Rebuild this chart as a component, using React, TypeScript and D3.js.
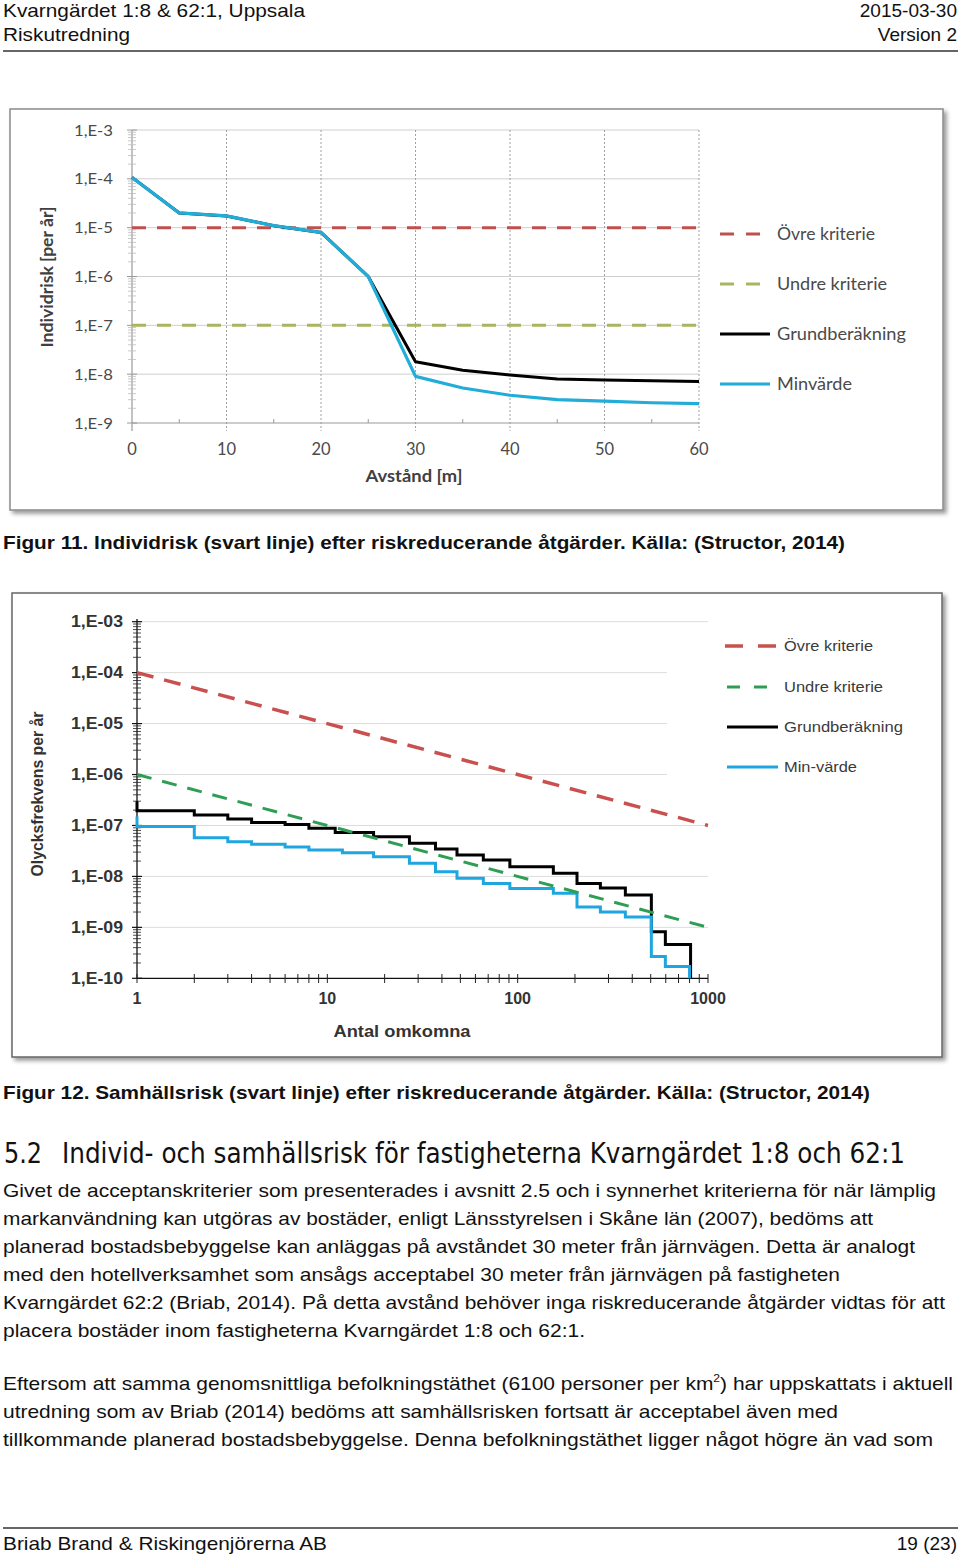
import React from 'react';
import * as d3 from 'd3';

// ---------- Page text ----------
const headerLeft = ['Kvarngärdet 1:8 & 62:1, Uppsala', 'Riskutredning'];
const headerRight = ['2015-03-30', 'Version 2'];
const caption11 = 'Figur 11. Individrisk (svart linje) efter riskreducerande åtgärder. Källa: (Structor, 2014)';
const caption12 = 'Figur 12. Samhällsrisk (svart linje) efter riskreducerande åtgärder. Källa: (Structor, 2014)';
const headingNum = '5.2';
const headingText = 'Individ- och samhällsrisk för fastigheterna Kvarngärdet 1:8 och 62:1';
const para1 = [
  'Givet de acceptanskriterier som presenterades i avsnitt 2.5 och i synnerhet kriterierna för när lämplig',
  'markanvändning kan utgöras av bostäder, enligt Länsstyrelsen i Skåne län (2007), bedöms att',
  'planerad bostadsbebyggelse kan anläggas på avståndet 30 meter från järnvägen. Detta är analogt',
  'med den hotellverksamhet som ansågs acceptabel 30 meter från järnvägen på fastigheten',
  'Kvarngärdet 62:2 (Briab, 2014). På detta avstånd behöver inga riskreducerande åtgärder vidtas för att',
  'placera bostäder inom fastigheterna Kvarngärdet 1:8 och 62:1.',
];
const para1Widths = [933, 870, 912, 837, 942, 582];
const para2a = 'Eftersom att samma genomsnittliga befolkningstäthet (6100 personer per km';
const para2b = ') har uppskattats i aktuell';
const para2 = [
  'utredning som av Briab (2014) bedöms att samhällsrisken fortsatt är acceptabel även med',
  'tillkommande planerad bostadsbebyggelse. Denna befolkningstäthet ligger något högre än vad som',
];
const para2Widths = [835, 930];
const footerLeft = 'Briab Brand & Riskingenjörerna AB';
const footerRight = '19 (23)';

// ---------- Figure 11: Individrisk ----------
const distances = [0, 5, 10, 15, 20, 25, 30, 35, 40, 45, 50, 55, 60];
const grundIndivid = [1.07e-4, 2e-5, 1.74e-5, 1.1e-5, 8e-6, 1e-6, 1.8e-8, 1.2e-8, 9.6e-9, 8e-9, 7.6e-9, 7.3e-9, 7.1e-9];
const minIndivid = [1.07e-4, 2e-5, 1.74e-5, 1.1e-5, 8e-6, 1e-6, 9e-9, 5.2e-9, 3.7e-9, 3e-9, 2.8e-9, 2.6e-9, 2.5e-9];
const ovreIndivid = 1e-5;
const undreIndivid = 1e-7;
const indYTicks = [1e-3, 1e-4, 1e-5, 1e-6, 1e-7, 1e-8, 1e-9];
const indYLabels = ['1,E-3', '1,E-4', '1,E-5', '1,E-6', '1,E-7', '1,E-8', '1,E-9'];
const indXTicks = [0, 10, 20, 30, 40, 50, 60];
const indXMinor = [5, 15, 25, 35, 45, 55];
const legend11 = ['Övre kriterie', 'Undre kriterie', 'Grundberäkning', 'Minvärde'];
const legend11Widths = [98, 110, 129, 75];

// ---------- Figure 12: Samhällsrisk (F/N) ----------
const grundN = [1, 1, 2, 3, 4, 6, 8, 11, 17.5, 27, 37, 48, 66, 91, 154, 205, 272, 368, 504, 597, 810];
const grundF = [3e-7, 1.95e-7, 1.6e-7, 1.34e-7, 1.15e-7, 1.05e-7, 8.8e-8, 7.3e-8, 6.0e-8, 4.47e-8, 3.45e-8, 2.63e-8, 2.1e-8, 1.55e-8, 1.15e-8, 7.3e-9, 5.9e-9, 4.3e-9, 8.2e-10, 4.6e-10, 1e-10];
const minN = [1, 1, 2, 3, 4, 6, 8, 12, 17.5, 27, 37, 48, 66, 91, 154, 205, 272, 368, 504, 597, 800];
const minF = [1.5e-7, 9.6e-8, 5.75e-8, 4.8e-8, 4.3e-8, 3.8e-8, 3.3e-8, 2.9e-8, 2.44e-8, 1.81e-8, 1.24e-8, 9.2e-9, 7.3e-9, 5.8e-9, 4.66e-9, 2.5e-9, 2.0e-9, 1.6e-9, 2.67e-10, 1.7e-10, 1e-10];
const ovreN = [1, 1000];
const ovreF = [1e-4, 1e-7];
const undreN = [1, 1000];
const undreF = [1e-6, 1e-9];
const samYTicks = [1e-3, 1e-4, 1e-5, 1e-6, 1e-7, 1e-8, 1e-9, 1e-10];
const samYLabels = ['1,E-03', '1,E-04', '1,E-05', '1,E-06', '1,E-07', '1,E-08', '1,E-09', '1,E-10'];
const samXTicks = [1, 10, 100, 1000];
const samXLabels = ['1', '10', '100', '1000'];
const legend12 = ['Övre kriterie', 'Undre kriterie', 'Grundberäkning', 'Min-värde'];
const legend12Widths = [89, 99, 119, 73];

const RED1 = '#c0504d';
const OLIVE1 = '#aab462';
const CYAN1 = '#22acd8';
const RED2 = '#c9504f';
const GREEN2 = '#2e9e55';
const CYAN2 = '#1ea6e0';

const sans = '"Liberation Sans", Arial, Helvetica, sans-serif';
const cal = 'Lato, "Open Sans", sans-serif';

function minorTicksLog(lo: number, hi: number): number[] {
  const out: number[] = [];
  for (let e = lo; e < hi; e++) {
    for (let m = 2; m <= 9; m++) out.push(m * Math.pow(10, e));
  }
  return out;
}

function Figure11() {
  const x = d3.scaleLinear().domain([0, 60]).range([132, 699]);
  const y = d3.scaleLog().domain([1e-9, 1e-3]).range([423, 130]);
  const line = d3
    .line<[number, number]>()
    .x((d) => x(d[0]))
    .y((d) => y(d[1]));
  const grundPts = distances.map((d, i) => [d, grundIndivid[i]] as [number, number]);
  const minPts = distances.map((d, i) => [d, minIndivid[i]] as [number, number]);
  const minors = minorTicksLog(-9, -3);
  const legY = [234, 284, 334, 384];
  return (
    <g>
      <rect x={10} y={109} width={933} height={401} fill="#fff" stroke="#8a8a8a" strokeWidth={1.5} filter="url(#shadow)" />
      {indYTicks.slice(0, 6).map((t) => (
        <line key={'hg' + t} x1={132} x2={699} y1={y(t)} y2={y(t)} stroke="#cfcfcf" strokeWidth={1} />
      ))}
      {indXTicks.slice(1).map((t) => (
        <line key={'vg' + t} x1={x(t)} x2={x(t)} y1={130} y2={431} stroke="#a0a0a0" strokeWidth={1} strokeDasharray="2 2" />
      ))}
      <line x1={132} x2={699} y1={423} y2={423} stroke="#9a9a9a" strokeWidth={1.2} />
      <line x1={132} x2={132} y1={130} y2={431} stroke="#9a9a9a" strokeWidth={1.2} />
      {indXMinor.map((t) => (
        <line key={'xm' + t} x1={x(t)} x2={x(t)} y1={419} y2={423} stroke="#9a9a9a" />
      ))}
      {minors.map((t, i) => (
        <line key={'ym' + i} x1={128} x2={136} y1={y(t)} y2={y(t)} stroke="#bcbcbc" strokeWidth={0.8} />
      ))}
      {indYTicks.map((t) => (
        <line key={'yM' + t} x1={127} x2={137} y1={y(t)} y2={y(t)} stroke="#9a9a9a" strokeWidth={1} />
      ))}
      {indYTicks.map((t, i) => (
        <text key={'yl' + t} x={113} y={y(t) + 5.5} textAnchor="end" fontFamily={cal} fontSize={16} fill="#4a4a4a" textLength={39} lengthAdjust="spacingAndGlyphs">
          {indYLabels[i]}
        </text>
      ))}
      {indXTicks.map((t) => (
        <text key={'xl' + t} x={x(t)} y={454.5} textAnchor="middle" fontFamily={cal} fontSize={16.5} fill="#4a4a4a">
          {t}
        </text>
      ))}
      <text x={414} y={482} textAnchor="middle" fontFamily={cal} fontSize={17} fontWeight="bold" fill="#404040" textLength={97} lengthAdjust="spacingAndGlyphs">
        Avstånd [m]
      </text>
      <text transform="translate(53,277) rotate(-90)" textAnchor="middle" fontFamily={cal} fontSize={17} fontWeight="bold" fill="#404040" textLength={141} lengthAdjust="spacingAndGlyphs">
        Individrisk [per år]
      </text>
      <line x1={132} x2={699} y1={y(ovreIndivid)} y2={y(ovreIndivid)} stroke={RED1} strokeWidth={3} strokeDasharray="14 11" />
      <line x1={132} x2={699} y1={y(undreIndivid)} y2={y(undreIndivid)} stroke={OLIVE1} strokeWidth={3} strokeDasharray="14 11" />
      <path d={line(grundPts) || ''} fill="none" stroke="#000" strokeWidth={3} strokeLinejoin="round" />
      <path d={line(minPts) || ''} fill="none" stroke={CYAN1} strokeWidth={3.2} strokeLinejoin="round" />
      {/* legend */}
      <line x1={720} x2={761} y1={legY[0]} y2={legY[0]} stroke={RED1} strokeWidth={3} strokeDasharray="14 12" />
      <line x1={720} x2={761} y1={legY[1]} y2={legY[1]} stroke={OLIVE1} strokeWidth={3} strokeDasharray="14 12" />
      <line x1={720} x2={770} y1={legY[2]} y2={legY[2]} stroke="#000" strokeWidth={3} />
      <line x1={720} x2={770} y1={legY[3]} y2={legY[3]} stroke={CYAN1} strokeWidth={3} />
      {legend11.map((s, i) => (
        <text key={s} x={777} y={legY[i] + 5.5} fontFamily={cal} fontSize={17} fill="#4a4a4a" textLength={legend11Widths[i]} lengthAdjust="spacingAndGlyphs">
          {s}
        </text>
      ))}
    </g>
  );
}

function Figure12() {
  const x = d3.scaleLog().domain([1, 1000]).range([137, 708]);
  const y = d3.scaleLog().domain([1e-10, 1e-3]).range([978.3, 621.7]);
  const step = d3
    .line<[number, number]>()
    .x((d) => x(d[0]))
    .y((d) => y(d[1]))
    .curve(d3.curveStepAfter);
  const straight = d3
    .line<[number, number]>()
    .x((d) => x(d[0]))
    .y((d) => y(d[1]));
  const grundPts = grundN.map((n, i) => [n, grundF[i]] as [number, number]);
  const minPts = minN.map((n, i) => [n, minF[i]] as [number, number]);
  const ovrePts = ovreN.map((n, i) => [n, ovreF[i]] as [number, number]);
  const undrePts = undreN.map((n, i) => [n, undreF[i]] as [number, number]);
  const yMinor = minorTicksLog(-10, -3);
  const xMinor = minorTicksLog(0, 3);
  const legY = [646, 687, 727, 767];
  return (
    <g>
      <rect x={12} y={593} width={930} height={464} fill="#fff" stroke="#666" strokeWidth={1.5} filter="url(#shadow)" />
      {samYTicks.slice(0, 7).map((t) => (
        <line key={'hg' + t} x1={137} x2={708} y1={y(t)} y2={y(t)} stroke="#dcdcdc" strokeWidth={1} />
      ))}
      {/* legend box covering gridlines */}
      <rect x={667} y={627} width={272} height={157} fill="#fff" />
      <line x1={137} x2={137} y1={619} y2={978.3} stroke="#111" strokeWidth={1.3} />
      <line x1={137} x2={708} y1={978.3} y2={978.3} stroke="#111" strokeWidth={1.3} />
      {yMinor.map((t, i) => (
        <line key={'ym' + i} x1={133} x2={141} y1={y(t)} y2={y(t)} stroke="#222" strokeWidth={0.8} />
      ))}
      {samYTicks.map((t) => (
        <line key={'yM' + t} x1={132} x2={142} y1={y(t)} y2={y(t)} stroke="#111" strokeWidth={1.2} />
      ))}
      {xMinor.concat(samXTicks).map((t, i) => (
        <line key={'xm' + i} x1={x(t)} x2={x(t)} y1={974} y2={983} stroke="#222" strokeWidth={1} />
      ))}
      {samYTicks.map((t, i) => (
        <text key={'yl' + t} x={123} y={y(t) + 5.5} textAnchor="end" fontFamily={sans} fontSize={16} fontWeight="bold" fill="#333" textLength={52} lengthAdjust="spacingAndGlyphs">
          {samYLabels[i]}
        </text>
      ))}
      {samXTicks.map((t, i) => (
        <text key={'xl' + t} x={x(t)} y={1003.5} textAnchor="middle" fontFamily={sans} fontSize={16} fontWeight="bold" fill="#333">
          {samXLabels[i]}
        </text>
      ))}
      <text x={402} y={1037} textAnchor="middle" fontFamily={sans} fontSize={17} fontWeight="bold" fill="#333" textLength={137} lengthAdjust="spacingAndGlyphs">
        Antal omkomna
      </text>
      <text transform="translate(43,794) rotate(-90)" textAnchor="middle" fontFamily={sans} fontSize={17} fontWeight="bold" fill="#333" textLength={165} lengthAdjust="spacingAndGlyphs">
        Olycksfrekvens per år
      </text>
      <path d={step(grundPts) || ''} fill="none" stroke="#000" strokeWidth={3} />
      <path d={step(minPts) || ''} fill="none" stroke={CYAN2} strokeWidth={3} />
      <path d={straight(ovrePts) || ''} fill="none" stroke={RED2} strokeWidth={3.5} strokeDasharray="17 11" />
      <path d={straight(undrePts) || ''} fill="none" stroke={GREEN2} strokeWidth={3} strokeDasharray="15 11" />
      {/* legend */}
      <line x1={725} x2={778} y1={legY[0]} y2={legY[0]} stroke={RED2} strokeWidth={3.5} strokeDasharray="18 15" />
      <line x1={727} x2={768} y1={legY[1]} y2={legY[1]} stroke={GREEN2} strokeWidth={3} strokeDasharray="13 14" />
      <line x1={727} x2={778} y1={legY[2]} y2={legY[2]} stroke="#000" strokeWidth={3} />
      <line x1={727} x2={778} y1={legY[3]} y2={legY[3]} stroke={CYAN2} strokeWidth={3} />
      {legend12.map((s, i) => (
        <text key={s} x={784} y={legY[i] + 5} fontFamily={sans} fontSize={15} fill="#3a3a3a" textLength={legend12Widths[i]} lengthAdjust="spacingAndGlyphs">
          {s}
        </text>
      ))}
    </g>
  );
}

export default function App() {
  return (
    <svg width={960} height={1556} style={{ position: 'absolute', left: 0, top: 0, background: '#fff' }}>
      <defs>
        <filter id="shadow" x="-5%" y="-5%" width="110%" height="115%">
          <feDropShadow dx={3} dy={3} stdDeviation={2} floodColor="#000" floodOpacity={0.4} />
        </filter>
      </defs>
      <rect x={0} y={0} width={960} height={1556} fill="#fff" />
      {/* header */}
      <text x={3} y={17} fontFamily={sans} fontSize={19} fill="#111" textLength={302} lengthAdjust="spacingAndGlyphs">{headerLeft[0]}</text>
      <text x={3} y={41} fontFamily={sans} fontSize={19} fill="#111" textLength={127} lengthAdjust="spacingAndGlyphs">{headerLeft[1]}</text>
      <text x={957} y={17} textAnchor="end" fontFamily={sans} fontSize={19} fill="#111">{headerRight[0]}</text>
      <text x={957} y={41} textAnchor="end" fontFamily={sans} fontSize={19} fill="#111">{headerRight[1]}</text>
      <line x1={3} x2={958} y1={51} y2={51} stroke="#333" strokeWidth={1.5} />

      <Figure11 />
      <text x={3} y={549} fontFamily={sans} fontSize={19} fontWeight="bold" fill="#111" textLength={842} lengthAdjust="spacingAndGlyphs">{caption11}</text>

      <Figure12 />
      <text x={3} y={1099} fontFamily={sans} fontSize={19} fontWeight="bold" fill="#111" textLength={867} lengthAdjust="spacingAndGlyphs">{caption12}</text>

      <text x={4} y={1163} fontFamily={'"Liberation Sans Narrow", "DejaVu Sans Condensed", sans-serif'} fontSize={28} fill="#111" textLength={38} lengthAdjust="spacingAndGlyphs">{headingNum}</text>
      <text x={62} y={1163} fontFamily={'"Liberation Sans Narrow", "DejaVu Sans Condensed", sans-serif'} fontSize={28} fill="#111" textLength={843} lengthAdjust="spacingAndGlyphs">{headingText}</text>

      {para1.map((s, i) => (
        <text key={'p1' + i} x={3} y={1197 + i * 28} fontFamily={sans} fontSize={19} fill="#111" textLength={para1Widths[i]} lengthAdjust="spacingAndGlyphs">{s}</text>
      ))}
      <text x={3} y={1390} fontFamily={sans} fontSize={19} fill="#111" textLength={950} lengthAdjust="spacingAndGlyphs">
        {para2a}
        <tspan fontSize={11} dy={-8}>2</tspan>
        <tspan dy={8}>{para2b}</tspan>
      </text>
      {para2.map((s, i) => (
        <text key={'p2' + i} x={3} y={1418 + i * 28} fontFamily={sans} fontSize={19} fill="#111" textLength={para2Widths[i]} lengthAdjust="spacingAndGlyphs">{s}</text>
      ))}

      <line x1={3} x2={958} y1={1528} y2={1528} stroke="#333" strokeWidth={1.5} />
      <text x={3} y={1550} fontFamily={sans} fontSize={19} fill="#111" textLength={324} lengthAdjust="spacingAndGlyphs">{footerLeft}</text>
      <text x={957} y={1550} textAnchor="end" fontFamily={sans} fontSize={19} fill="#111">{footerRight}</text>
    </svg>
  );
}
